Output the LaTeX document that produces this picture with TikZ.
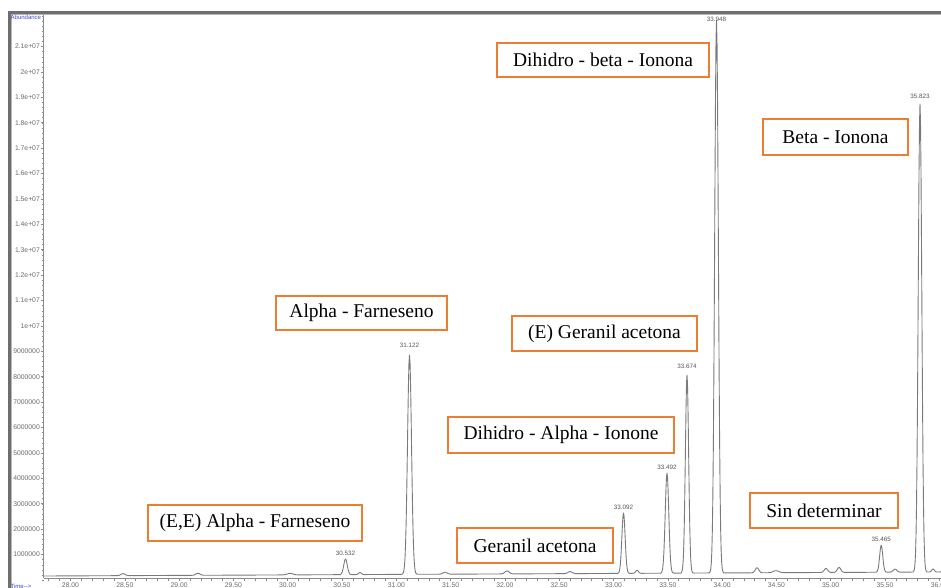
\documentclass[tikz,border=0pt]{standalone}
\usepackage{fontspec}
\setmainfont{Liberation Serif}
\newfontfamily\lblfont{Liberation Serif}
\newfontfamily\axfont{Liberation Sans}
\definecolor{boxorange}{HTML}{ED7D31}
\definecolor{curvegray}{HTML}{7A7A7A}
\definecolor{axgray}{HTML}{8A8A8A}
\definecolor{axtext}{HTML}{6A6A6A}
\definecolor{framegray}{HTML}{6E6E6E}
\definecolor{axblue}{HTML}{3F48CC}
\begin{document}
\begin{tikzpicture}[x=1pt,y=-1pt,
  lbl/.style={draw=boxorange, line width=1.4pt, fill=white, inner sep=0pt,
    font=\lblfont\fontsize{19.5}{22}\selectfont, text=black},
  ticklbl/.style={font=\axfont\fontsize{6.8}{7}\selectfont, text=axtext, inner sep=0pt},
  pklbl/.style={font=\axfont\fontsize{6.3}{7}\selectfont, text=axtext!80!black, inner sep=0pt},
  bluelbl/.style={font=\axfont\fontsize{6}{7}\selectfont, text=axblue, inner sep=0pt},
  curve/.style={draw=curvegray, line width=0.9pt, line join=round},
  axisline/.style={draw=axgray, line width=0.8pt}]
\useasboundingbox (0,0) rectangle (941,588);
\fill[white] (0,0) rectangle (941,588);
% window frame
\draw[draw=framegray, line width=2.2pt] (9.5,588) -- (9.5,12.5) -- (941,12.5);
\draw[draw=framegray!50, line width=0.8pt] (11.2,588) -- (11.2,14.2) -- (941,14.2);
% y axis
\draw[axisline] (43.5,15) -- (43.5,578);
\foreach \k in {0,...,111}{
  \pgfmathsetmacro\yy{580-5.08*\k}
  \draw[axisline, line width=0.5pt] (42,\yy) -- (43.5,\yy);
}
\foreach \v/\t in {1/1000000,2/2000000,3/3000000,4/4000000,5/5000000,6/6000000,
  7/7000000,8/8000000,9/9000000,10/1e+07,11/1.1e+07,12/1.2e+07,13/1.3e+07,
  14/1.4e+07,15/1.5e+07,16/1.6e+07,17/1.7e+07,18/1.8e+07,19/1.9e+07,20/2e+07,21/2.1e+07}{
  \pgfmathsetmacro\yy{580-25.4*\v}
  \draw[axisline] (40.5,\yy) -- (43.5,\yy);
  \node[ticklbl, anchor=east] (yl\v) at (40,\yy) {\t};
}
\node[bluelbl, anchor=west] (abund) at (10.5,17.5) {Abundance};
\node[bluelbl, anchor=north west] (timelbl) at (10.5,583.5) {Time-{}->};
% x axis
\draw[axisline] (43.5,578) -- (941,578);
\foreach \i in {0,...,84}{
  \pgfmathsetmacro\xx{70.5+(\i-2)*10.86}
  \draw[axisline, line width=0.6pt] (\xx,578) -- (\xx,580.8);
}
\foreach \i/\t in {0/28.00,1/28.50,2/29.00,3/29.50,4/30.00,5/30.50,6/31.00,7/31.50,
  8/32.00,9/32.50,10/33.00,11/33.50,12/34.00,13/34.50,14/35.00,15/35.50,16/36.00}{
  \pgfmathsetmacro\xx{70.5+\i*54.3}
  \node[ticklbl, anchor=north] (xl\i) at (\xx,583) {\t};
}
% chromatogram
\draw[curve] (43.5,576)
  \foreach \pc/\ph/\ps [evaluate=\pc as \pa using \pc-3*\ps,
                        evaluate=\pc as \pb using \pc+3*\ps] in
  {123/2/3, 198/2/3, 290/1.5/4, 345.5/15.6/2.5, 360/2/2, 409.5/219.3/2.8, 445/2/3,
   507/3/3, 570/2/3, 623.5/60.4/2.3, 637/3/2, 667/100/2.5, 687/198/2.3,
   716.5/553/2.6, 757/5/2.5, 776/2/4, 826/4/2.5, 839/5/2.5, 881.2/27/2.2,
   895/3/2.5, 920/468/2.5, 933/3/1.8}
  { -- plot[domain=\pa:\pb, samples=31]
      (\x,{576-(\x-43)*0.0045-\ph*exp(-(((\x-\pc)/\ps)*((\x-\pc)/\ps)))}) }
  -- (941,571.9);
% peak retention times
\node[pklbl] (p1) at (345.5,553) {30.532};
\node[pklbl] (p2) at (409.5,345) {31.122};
\node[pklbl] (p3) at (623.5,507) {33.092};
\node[pklbl] (p4) at (667,467) {33.492};
\node[pklbl] (p5) at (687,366) {33.674};
\node[pklbl] (p6) at (716.5,19) {33.948};
\node[pklbl] (p7) at (881.2,539.5) {35.465};
\node[pklbl] (p8) at (920,96) {35.823};
% compound labels
\node[lbl, minimum width=212pt, minimum height=34pt] (dbi) at (603,60) {Dihidro - beta - Ionona};
\node[lbl, minimum width=145pt, minimum height=36pt] (bi) at (835.5,137) {Beta - Ionona};
\node[lbl, minimum width=171pt, minimum height=34pt] (af) at (361.5,313) {Alpha - Farneseno};
\node[lbl, minimum width=185pt, minimum height=35pt] (ega) at (604.5,333.5) {(E) Geranil acetona};
\node[lbl, minimum width=226pt, minimum height=36pt] (dai) at (561,435) {Dihidro - Alpha - Ionone\hspace{5pt}};
\node[lbl, minimum width=156pt, minimum height=35pt] (ga) at (535,545.5) {Geranil acetona};
\node[lbl, minimum width=214pt, minimum height=36pt] (eeaf) at (255,523) {(E,E) Alpha - Farneseno};
\node[lbl, minimum width=148pt, minimum height=35pt] (sd) at (824,510.5) {Sin determinar};
\end{tikzpicture}
\end{document}
